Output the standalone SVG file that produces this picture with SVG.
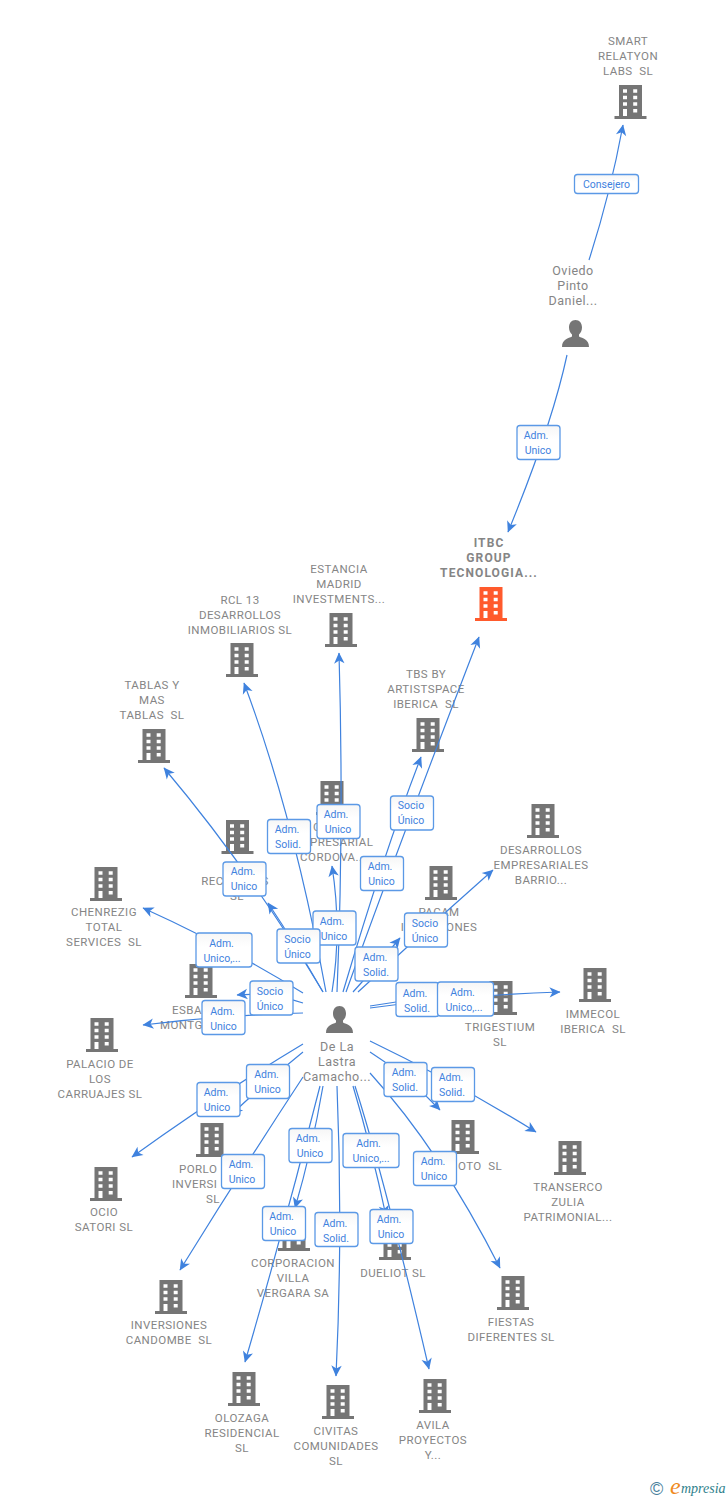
<svg xmlns="http://www.w3.org/2000/svg" width="728" height="1500" viewBox="0 0 728 1500">
<style>
text{font-family:Roboto,"Liberation Sans",Arial,sans-serif;white-space:pre}
.n{font-size:11.500px;fill:#858585;text-anchor:middle;font-weight:400;letter-spacing:.45px}
.s{font-size:11.500px;fill:#858585;font-weight:400;letter-spacing:.45px}
.b{font-size:12px;fill:#858585;text-anchor:middle;font-weight:700;letter-spacing:1.1px}
.p{font-size:12.500px;fill:#858585;text-anchor:middle;letter-spacing:.5px}
.l{fill:none;stroke:#3f82de;stroke-width:1.2}
.e rect{fill:url(#g);stroke:#5b99e6;stroke-width:1.3}
.e text{font-size:10.500px;fill:#3f82de;text-anchor:middle}
.i{fill:#757575}
</style>
<defs>
<linearGradient id="g" x1="0" y1="0" x2="0" y2="1"><stop offset="0" stop-color="#f6f6f6"/><stop offset=".4" stop-color="#fff"/></linearGradient>
<marker id="a" markerUnits="userSpaceOnUse" markerWidth="12" markerHeight="12" refX="11" refY="6" orient="auto" viewBox="0 0 12 12"><path d="M11.5 6L.5 .8L3.5 6L.5 11.2z" fill="#3f82de"/></marker>
<path id="bp" fill-rule="evenodd" d="M-11.500 0H11.500V31H16V34H-16V31H-11.500ZM-7.500 4.300V7.800H-3.500V4.300ZM2.700 4.300V7.800H6.700V4.300ZM-7.500 10.800V14.300H-3.500V10.800ZM2.700 10.800V14.300H6.700V10.800ZM-7.500 17.300V20.800H-3.500V17.300ZM2.700 17.300V20.800H6.700V17.300ZM-7.500 24V31H-3.500V24ZM2.700 24V27.600H6.700V24Z"/>
<path id="pp" d="M0 0C4 0 6.500 3 6.500 7.500C6.500 11 5 13 3.500 14.500V16.500C7 18.500 13.500 19 13.500 27H-13.500C-13.500 19 -7 18.500 -3.500 16.500V14.500C-5 13 -6.500 11 -6.500 7.500C-6.500 3 -4 0 0 0Z"/>
</defs>
<g id="n-smart"><use href="#bp" class="i" x="630.500" y="85"/><text class="n"><tspan x="628" y="45">SMART</tspan><tspan x="628" y="60">RELATYON</tspan><tspan x="628" y="75">LABS  SL</tspan></text></g>
<g id="n-oviedo"><use href="#pp" class="i" x="575.500" y="320"/><text class="p"><tspan x="573" y="275">Oviedo</tspan><tspan x="573" y="290">Pinto</tspan><tspan x="573" y="305">Daniel...</tspan></text></g>
<g id="n-itbc"><use href="#bp" fill="#ff5a2c" x="491" y="587"/><text class="b"><tspan x="489" y="547">ITBC</tspan><tspan x="489" y="562">GROUP</tspan><tspan x="489" y="577">TECNOLOGIA...</tspan></text></g>
<g id="n-estancia"><use href="#bp" class="i" x="341" y="613"/><text class="n"><tspan x="339" y="573">ESTANCIA</tspan><tspan x="339" y="588">MADRID</tspan><tspan x="339" y="603">INVESTMENTS...</tspan></text></g>
<g id="n-rcl"><use href="#bp" class="i" x="242" y="643"/><text class="n"><tspan x="240" y="604">RCL 13</tspan><tspan x="240" y="619">DESARROLLOS</tspan><tspan x="240" y="634">INMOBILIARIOS SL</tspan></text></g>
<g id="n-tablas"><use href="#bp" class="i" x="154" y="729"/><text class="n"><tspan x="152" y="689">TABLAS Y</tspan><tspan x="152" y="704">MAS</tspan><tspan x="152" y="719">TABLAS  SL</tspan></text></g>
<g id="n-tbs"><use href="#bp" class="i" x="428" y="718"/><text class="n"><tspan x="426" y="678">TBS BY</tspan><tspan x="426" y="693">ARTISTSPACE</tspan><tspan x="426" y="708">IBERICA  SL</tspan></text></g>
<g id="n-cordova"><use href="#bp" class="i" x="332" y="781"/><text class="n"><tspan x="333" y="831">GRUPO</tspan><tspan x="333" y="846">EMPRESARIAL</tspan><tspan x="333" y="861">CORDOVA...</tspan></text></g>
<g id="n-recoletos"><use href="#bp" class="i" x="237.500" y="820"/><text class="n"><tspan x="235" y="885">RECOLETOS</tspan><tspan x="237" y="900">SL</tspan></text></g>
<g id="n-desarrollos"><use href="#bp" class="i" x="543" y="804"/><text class="n"><tspan x="541" y="854">DESARROLLOS</tspan><tspan x="541" y="869">EMPRESARIALES</tspan><tspan x="541" y="884">BARRIO...</tspan></text></g>
<g id="n-pacam"><use href="#bp" class="i" x="441" y="866"/><text class="n"><tspan x="439" y="916">PACAM</tspan><tspan x="439" y="931">INVERSIONES</tspan></text></g>
<g id="n-chenrezig"><use href="#bp" class="i" x="106" y="867"/><text class="n"><tspan x="104" y="916">CHENREZIG</tspan><tspan x="104" y="931">TOTAL</tspan><tspan x="104" y="946">SERVICES  SL</tspan></text></g>
<g id="n-esba"><use href="#bp" class="i" x="201" y="964"/><text class="s" x="172" y="1014">ESBA</text><text class="s" x="160" y="1029">MONTG</text></g>
<g id="n-trigestium"><use href="#bp" class="i" x="501" y="981"/><text class="n"><tspan x="500" y="1031">TRIGESTIUM</tspan><tspan x="500" y="1046">SL</tspan></text></g>
<g id="n-immecol"><use href="#bp" class="i" x="595" y="968"/><text class="n"><tspan x="593" y="1018">IMMECOL</tspan><tspan x="593" y="1033">IBERICA  SL</tspan></text></g>
<g id="n-palacio"><use href="#bp" class="i" x="102" y="1018"/><text class="n"><tspan x="100" y="1068">PALACIO DE</tspan><tspan x="100" y="1083">LOS</tspan><tspan x="100" y="1098">CARRUAJES SL</tspan></text></g>
<g id="n-ocio"><use href="#bp" class="i" x="106" y="1167"/><text class="n"><tspan x="104" y="1216">OCIO</tspan><tspan x="104" y="1231">SATORI SL</tspan></text></g>
<g id="n-porlo"><use href="#bp" class="i" x="212" y="1123"/><text class="s" x="179" y="1173">PORLO</text><text class="s" x="172" y="1188">INVERSI</text><text class="n" x="213" y="1203">SL</text></g>
<g id="n-oto"><use href="#bp" class="i" x="463" y="1120"/><text class="s" x="458" y="1170">OTO  SL</text></g>
<g id="n-transerco"><use href="#bp" class="i" x="570" y="1141"/><text class="n"><tspan x="568" y="1191">TRANSERCO</tspan><tspan x="568" y="1206">ZULIA</tspan><tspan x="568" y="1221">PATRIMONIAL...</tspan></text></g>
<g id="n-corporacion"><use href="#bp" class="i" x="294" y="1217"/><text class="n"><tspan x="293" y="1267">CORPORACION</tspan><tspan x="293" y="1282">VILLA</tspan><tspan x="293" y="1297">VERGARA SA</tspan></text></g>
<g id="n-dueliot"><use href="#bp" class="i" x="395" y="1226"/><text class="n" x="393" y="1277">DUELIOT SL</text></g>
<g id="n-fiestas"><use href="#bp" class="i" x="513" y="1276"/><text class="n"><tspan x="511" y="1326">FIESTAS</tspan><tspan x="511" y="1341">DIFERENTES SL</tspan></text></g>
<g id="n-inversiones"><use href="#bp" class="i" x="171" y="1280"/><text class="n"><tspan x="169" y="1329">INVERSIONES</tspan><tspan x="169" y="1344">CANDOMBE  SL</tspan></text></g>
<g id="n-olozaga"><use href="#bp" class="i" x="244" y="1372"/><text class="n"><tspan x="242" y="1422">OLOZAGA</tspan><tspan x="242" y="1437">RESIDENCIAL</tspan><tspan x="242" y="1452">SL</tspan></text></g>
<g id="n-civitas"><use href="#bp" class="i" x="338" y="1385"/><text class="n"><tspan x="336" y="1435">CIVITAS</tspan><tspan x="336" y="1450">COMUNIDADES</tspan><tspan x="336" y="1465">SL</tspan></text></g>
<g id="n-avila"><use href="#bp" class="i" x="435" y="1379"/><text class="n"><tspan x="433" y="1429">AVILA</tspan><tspan x="433" y="1444">PROYECTOS</tspan><tspan x="433" y="1459">Y...</tspan></text></g>
<g id="n-lastra"><use href="#pp" class="i" x="339.500" y="1006"/><text class="p"><tspan x="337" y="1051">De La</tspan><tspan x="337" y="1066">Lastra</tspan><tspan x="337" y="1081">Camacho...</tspan></text></g>
<g id="connectors" class="l">
<path marker-end="url(#a)" d="M589 260Q610 195 623 125"/>
<path marker-end="url(#a)" d="M567 355Q552 425 508 532"/>
<path marker-end="url(#a)" d="M346 992Q397 850 479 637"/>
<path marker-end="url(#a)" d="M343 992Q385 850 421 757"/>
<path marker-end="url(#a)" d="M337 992Q344 826 339 653"/>
<path marker-end="url(#a)" d="M326 992Q293 813 244 683"/>
<path marker-end="url(#a)" d="M332 992Q342 930 332 866"/>
<path marker-end="url(#a)" d="M323 992Q250 870 164 768"/>
<path marker-end="url(#a)" d="M323 992Q296 945 268 903"/>
<path marker-end="url(#a)" d="M353 992Q378 965 400 938"/>
<path marker-end="url(#a)" d="M358 992Q425 930 493 870"/>
<path marker-end="url(#a)" d="M303 993Q225 945 143 908"/>
<path marker-end="url(#a)" d="M303 1003Q270 992 237 995"/>
<path marker-end="url(#a)" d="M303 1013Q223 1015 143 1025"/>
<path marker-end="url(#a)" d="M370 1008Q465 995 560 992"/>
<path marker-end="url(#a)" d="M370 1006Q417 998 464 993"/>
<path marker-end="url(#a)" d="M303 1044Q218 1095 132 1157"/>
<path marker-end="url(#a)" d="M303 1052Q268 1080 232 1114"/>
<path marker-end="url(#a)" d="M303 1077Q242 1170 180 1270"/>
<path marker-end="url(#a)" d="M323 1086Q312 1150 295 1208"/>
<path marker-end="url(#a)" d="M320 1086Q285 1225 245 1362"/>
<path marker-end="url(#a)" d="M337 1086Q343 1230 336 1376"/>
<path marker-end="url(#a)" d="M353 1086Q372 1150 386 1216"/>
<path marker-end="url(#a)" d="M355 1086Q385 1180 429 1369"/>
<path marker-end="url(#a)" d="M370 1041Q455 1082 536 1132"/>
<path marker-end="url(#a)" d="M370 1052Q407 1075 440 1110"/>
<path marker-end="url(#a)" d="M370 1073Q440 1150 500 1268"/>
</g>
<g id="edge-labels" class="e">
<g><rect x="574.500" y="174.500" width="64" height="19" rx="3"/><text x="606.500" y="188">Consejero</text></g>
<g><rect x="517" y="425.500" width="43" height="34" rx="3"/><text x="536" y="438.500">Adm.</text><text x="538" y="453.500">Unico</text></g>
<g><rect x="267.500" y="819.500" width="43" height="34" rx="3"/><text x="287" y="833">Adm.</text><text x="288" y="848">Solid.</text></g>
<g><rect x="317" y="804.500" width="43" height="34" rx="3"/><text x="336" y="817.500">Adm.</text><text x="338" y="832.500">Unico</text></g>
<g><rect x="390.500" y="796" width="43" height="34" rx="3"/><text x="411" y="809">Socio</text><text x="411" y="824">Único</text></g>
<g><rect x="223" y="862" width="43" height="34" rx="3"/><text x="243" y="875">Adm.</text><text x="244" y="890">Unico</text></g>
<g><rect x="360.500" y="856.500" width="43" height="34" rx="3"/><text x="380" y="870">Adm.</text><text x="381.500" y="885">Unico</text></g>
<g><rect x="313" y="911" width="43" height="34" rx="3"/><text x="332" y="924.500">Adm.</text><text x="334" y="939.500">Unico</text></g>
<g><rect x="277" y="929" width="43" height="34" rx="3"/><text x="297.500" y="942.500">Socio</text><text x="297.500" y="957.500">Único</text></g>
<g><rect x="196" y="933" width="56" height="34" rx="3"/><text x="221.500" y="946.500">Adm.</text><text x="222" y="961.500">Unico,...</text></g>
<g><rect x="355" y="947" width="43" height="34" rx="3"/><text x="375" y="960.500">Adm.</text><text x="376" y="975.500">Solid.</text></g>
<g><rect x="404.500" y="913" width="43" height="34" rx="3"/><text x="425" y="926.500">Socio</text><text x="425" y="941.500">Único</text></g>
<g><rect x="250" y="981" width="43" height="34" rx="3"/><text x="270" y="994.500">Socio</text><text x="270" y="1009.500">Único</text></g>
<g><rect x="202" y="1000.500" width="43" height="34" rx="3"/><text x="222.500" y="1014.500">Adm.</text><text x="223.500" y="1029.500">Unico</text></g>
<g><rect x="396" y="982.500" width="43" height="34" rx="3"/><text x="415" y="996.500">Adm.</text><text x="417" y="1011.500">Solid.</text></g>
<g><rect x="437.500" y="982" width="56" height="34" rx="3"/><text x="462.500" y="995.500">Adm.</text><text x="464" y="1010.500">Unico,...</text></g>
<g><rect x="246.500" y="1064.500" width="43" height="34" rx="3"/><text x="266.500" y="1078">Adm.</text><text x="267.500" y="1093">Unico</text></g>
<g><rect x="197" y="1082.500" width="43" height="34" rx="3"/><text x="216" y="1095.500">Adm.</text><text x="217" y="1110.500">Unico</text></g>
<g><rect x="221.500" y="1154.500" width="43" height="34" rx="3"/><text x="241" y="1168">Adm.</text><text x="242" y="1183">Unico</text></g>
<g><rect x="289" y="1128.500" width="43" height="34" rx="3"/><text x="308" y="1142">Adm.</text><text x="310" y="1157">Unico</text></g>
<g><rect x="343" y="1133.500" width="56" height="34" rx="3"/><text x="368.500" y="1147">Adm.</text><text x="371" y="1162">Unico,...</text></g>
<g><rect x="384" y="1062.500" width="43" height="34" rx="3"/><text x="404" y="1076">Adm.</text><text x="405" y="1091">Solid.</text></g>
<g><rect x="431.500" y="1067.500" width="43" height="34" rx="3"/><text x="451" y="1081">Adm.</text><text x="452" y="1096">Solid.</text></g>
<g><rect x="413.500" y="1151.500" width="43" height="34" rx="3"/><text x="433" y="1164.500">Adm.</text><text x="434" y="1179.500">Unico</text></g>
<g><rect x="262.500" y="1206.500" width="43" height="34" rx="3"/><text x="281.500" y="1219.500">Adm.</text><text x="283" y="1234.500">Unico</text></g>
<g><rect x="315" y="1212.500" width="43" height="34" rx="3"/><text x="335" y="1226.500">Adm.</text><text x="336" y="1241.500">Solid.</text></g>
<g><rect x="370" y="1209.500" width="43" height="34" rx="3"/><text x="389" y="1223">Adm.</text><text x="391" y="1238">Unico</text></g>
</g>
<g id="logo"><text x="650" y="1495" font-size="18" fill="#4a7f9c" style="font-family:'Liberation Sans',sans-serif">©</text><text x="670" y="1494" font-size="24" fill="#f08a1d" style="font-family:'Liberation Serif',serif;font-style:italic">e</text><text x="681" y="1493" font-size="14" fill="#2f7f8c" style="font-family:'Liberation Serif',serif;font-style:italic">mpresia</text></g>
</svg>
